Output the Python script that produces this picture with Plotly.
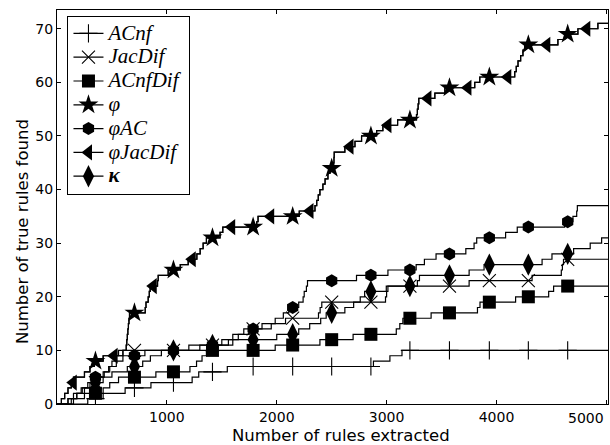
import numpy as np
import plotly.graph_objects as go

# ---------------- data ----------------
X_END = 5015  # last rule index shown

# step breakpoints: number of rules extracted -> number of true rules found
acnf_x = [0, 280, 420, 620, 855, 1230, 1290, 1550, 2880, 3030, 3140]
acnf_y = [0, 1, 2, 3, 4, 5, 6, 7, 8, 9, 10]

jacdif_x = [0, 100, 180, 230, 300, 380, 430, 470, 500, 530, 560, 1200, 1560, 1650, 1750,
            1950, 2080, 2380, 2395, 2410, 2990, 3000, 3012, 3751, 4324, 4590, 4600, 4610]
jacdif_y = [0, 1, 2, 3, 4, 5, 6, 7, 8, 9, 10, 11, 12, 13, 14,
            15, 16, 17, 18, 19, 20, 21, 22, 23, 24, 25, 26, 27]

acnfdif_x = [0, 150, 250, 420, 480, 560, 900, 1210, 1270, 1320, 1360, 1986, 2393, 2695,
             3088, 3120, 3148, 3405, 3827, 3850, 4174, 4475, 4520]
acnfdif_y = [0, 1, 2, 3, 4, 5, 6, 7, 8, 9, 10, 11, 12, 13,
             14, 15, 16, 17, 18, 19, 20, 21, 22]

phi_x = [0, 40, 70, 100, 130, 150, 250, 300, 340, 420, 600, 630, 635, 640, 645, 650, 655, 660,
         803, 810, 830, 840, 848, 915, 921, 1012, 1122, 1194, 1273, 1303, 1330, 1360, 1484, 1509,
         1818, 1830, 2205, 2348, 2364, 2378, 2393, 2420, 2440, 2466, 2484, 2518, 2521, 2523,
         2620, 2712, 2772, 2909, 2966, 3100, 3272, 3280, 3287, 3293, 3439, 3530,
         3802, 3848, 4166, 4180, 4196, 4220, 4241, 4257, 4559, 4620, 4741, 4923]
phi_y = [0, 1, 2, 3, 4, 5, 6, 7, 8, 9, 10, 11, 12, 13, 14, 15, 16, 17,
         18, 19, 20, 21, 22, 23, 24, 25, 26, 27, 28, 29, 30, 31, 32, 33,
         34, 35, 36, 37, 38, 39, 40, 41, 42, 43, 44, 45, 46, 47,
         48, 49, 50, 51, 52, 53, 54, 55, 56, 57, 58, 59,
         60, 61, 62, 63, 64, 65, 66, 67, 68, 69, 70, 71]
# phi*JacDif follows exactly the same curve as phi in the reference
phijac_x = list(phi_x)
phijac_y = list(phi_y)

phiac_x = [0, 100, 150, 220, 280, 330, 420, 480, 540, 600, 800, 1300, 1500, 1600, 1700,
           1866, 1986, 2060, 2110, 2200, 2240, 2250, 2270, 2280, 2726, 3012, 3269, 3344,
           3450, 3721, 3796, 3820, 4083, 4189, 4620, 4696, 4730, 4736]
phiac_y = [0, 1, 2, 3, 4, 5, 6, 7, 8, 9, 10, 11, 12, 13, 14,
           15, 16, 17, 18, 19, 20, 21, 22, 23, 24, 25, 26, 27,
           28, 29, 30, 31, 32, 33, 34, 35, 36, 37]

kappa_x = [0, 130, 180, 250, 330, 420, 500, 640, 780, 850, 950, 1400, 1600, 2000, 2200,
           2300, 2400, 2450, 2620, 2700, 2760, 2800, 2997, 3280, 3299, 3751, 3887, 4415,
           4505, 4702, 4853, 4957]
kappa_y = [0, 1, 2, 3, 4, 5, 6, 7, 8, 9, 10, 11, 12, 13, 14,
           15, 16, 17, 18, 19, 20, 21, 22, 23, 24, 25, 26, 27,
           28, 29, 30, 31]

# positions (rules extracted) at which markers are drawn
mark_x = [350, 705, 1060, 1415, 1785, 2145, 2500, 2857, 3212, 3572, 3935, 4290, 4648]
mark_x_tri = [148, 520, 876, 1231, 1590, 1945, 2303, 2667, 3012, 3376, 3740, 4103, 4458, 4822]

x_tickvals = [1000, 2000, 3000, 4000, 5000]
x_ticktext = ["1000", "2000", "3000", "4000", ""]  # "5000" is drawn flush to the frame
x_last_label = "5000"
y_tickvals = [0, 10, 20, 30, 40, 50, 60, 70]

series = [
    ("ACnf", acnf_x, acnf_y, mark_x,
     dict(symbol="cross-thin", size=13, line=dict(width=1.1, color="black"))),
    ("JacDif", jacdif_x, jacdif_y, mark_x,
     dict(symbol="x-thin", size=13, line=dict(width=1.1, color="black"))),
    ("ACnfDif", acnfdif_x, acnfdif_y, mark_x,
     dict(symbol="square", size=13, color="black", line=dict(width=0))),
    ("φ", phi_x, phi_y, mark_x,
     dict(symbol="star", size=15, color="black", line=dict(width=0))),
    ("φAC", phiac_x, phiac_y, mark_x,
     dict(symbol="hexagon", size=13, color="black", line=dict(width=0))),
    ("φJacDif", phijac_x, phijac_y, mark_x_tri,
     dict(symbol="triangle-left", size=14, color="black", line=dict(width=0))),
    ("κ", kappa_x, kappa_y, mark_x,
     dict(symbol="diamond-tall", size=16, color="black", line=dict(width=0))),
]
for _n, _xs, _ys, _m, _k in series:
    assert len(_xs) == len(_ys), _n


def value_at(xs, ys, q):
    idx = np.searchsorted(np.asarray(xs), np.asarray(q), side="right") - 1
    return np.asarray(ys)[idx]


def legend_label(name):
    weight = "font-weight:bold;" if name == "κ" else ""
    return f"<span style='font-size:21px;{weight}'><i>{name}</i></span>"


fig = go.Figure()
LINE = dict(color="black", width=1.2, shape="hv")

for name, xs, ys, mx, mk in series:
    fig.add_trace(go.Scatter(x=list(xs) + [X_END], y=list(ys) + [ys[-1]], mode="lines",
                             line=LINE, showlegend=False, hoverinfo="skip"))
for name, xs, ys, mx, mk in series:
    fig.add_trace(go.Scatter(x=mx, y=value_at(xs, ys, mx), mode="markers",
                             marker=mk, showlegend=False))
for name, xs, ys, mx, mk in series:
    fig.add_trace(go.Scatter(x=[None], y=[None], mode="lines+markers",
                             name=legend_label(name),
                             line=dict(color="black", width=1.2), marker=mk))

TICK_FONT = dict(family="DejaVu Sans", size=14, color="black")
axis_common = dict(showline=True, linecolor="black", linewidth=1, mirror="ticks",
                   ticks="inside", ticklen=4, tickcolor="black", showgrid=False,
                   zeroline=False, automargin=False, tickfont=TICK_FONT)

TITLE_FONT = dict(family="DejaVu Sans", size=16.5, color="black")

fig.update_layout(
    width=610, height=445,
    margin=dict(l=57, r=2, t=10, b=41),
    paper_bgcolor="white", plot_bgcolor="white",
    xaxis=dict(range=[0, X_END], tickvals=x_tickvals, ticktext=x_ticktext, **axis_common),
    yaxis=dict(range=[0, 73.5], tickvals=y_tickvals, **axis_common),
    legend=dict(x=0.019, y=0.986, xanchor="left", yanchor="top", bgcolor="white",
                bordercolor="black", borderwidth=1, tracegroupgap=0,
                font=dict(family="Liberation Serif", size=16, color="black")),
    showlegend=True,
    annotations=[
        dict(text=x_last_label, xref="x", yref="paper", x=x_tickvals[-1], y=0,
             xanchor="right", yanchor="top", yshift=-4, showarrow=False, font=TICK_FONT),
        dict(text="Number of rules extracted", xref="paper", yref="paper",
             x=0.5154, y=-0.079, xanchor="center", yanchor="middle",
             showarrow=False, font=TITLE_FONT),
        dict(text="Number of true rules found", xref="paper", yref="paper",
             x=-0.0635, y=0.4365, xanchor="center", yanchor="middle", textangle=-90,
             showarrow=False, font=TITLE_FONT),
    ],
)

# remove the browser's default 8px body margin so the 610x445 figure fills the window
fig.write_html("out.html",
               config=dict(displayModeBar=False),
               post_script="document.body.style.margin='0';"
                           "document.body.style.overflow='hidden';")
